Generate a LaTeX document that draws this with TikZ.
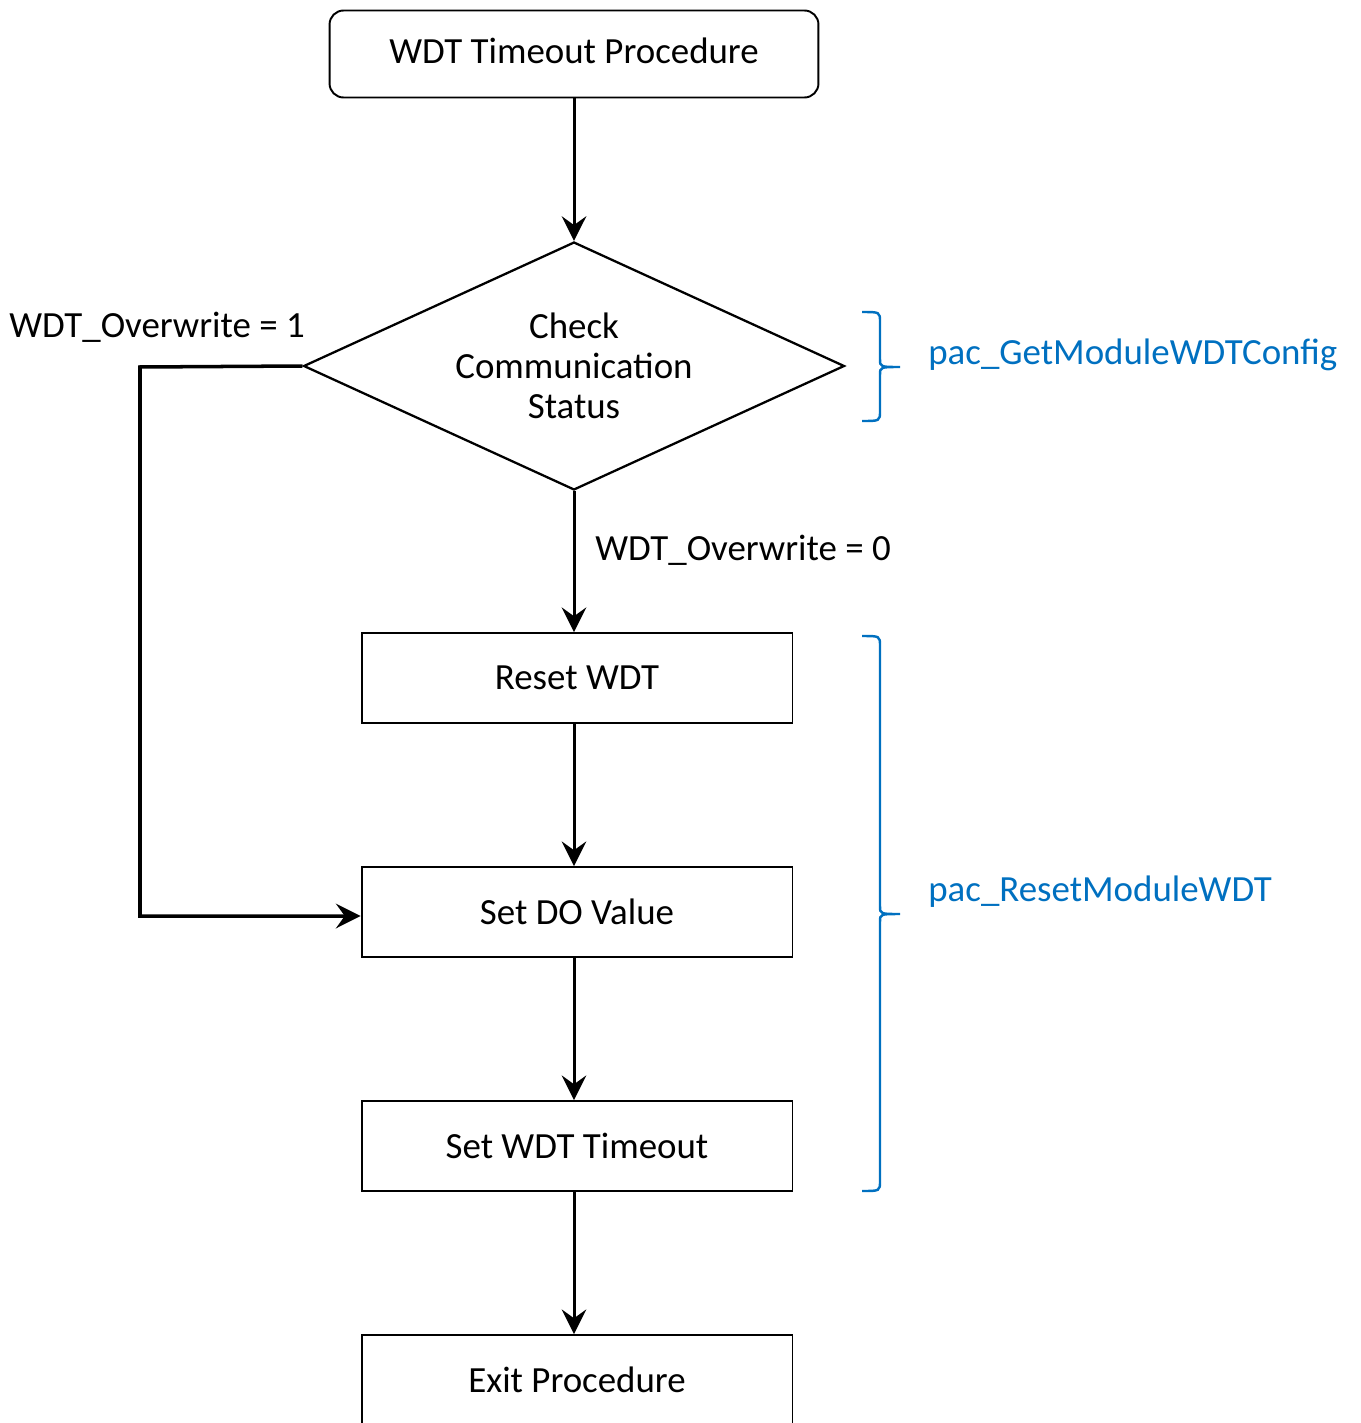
\documentclass[tikz,border=0pt]{standalone}
\usepackage{fontspec}
\setmainfont{Carlito}
\usetikzlibrary{arrows.meta,shapes.geometric}
\definecolor{apiblue}{RGB}{0,112,192}
\def\sidebrace(#1,#2,#3){\draw[bracepath] (862,#1) .. controls (880,#1) .. (880,#1+10) -- (880,#2-8) .. controls (880,#2) .. (900,#2) .. controls (880,#2) .. (880,#2+8) -- (880,#3-10) .. controls (880,#3) .. (862,#3);}
\tikzset{
  procbox/.style={draw, line width=1.1pt, minimum width=8.62cm, minimum height=1.8cm, inner sep=0pt},
  flowline/.style={line width=1.7pt, -{Stealth[length=14pt, width=14pt, inset=5pt]}},
  bracepath/.style={draw=apiblue, line width=1.4pt},
  apilabel/.style={text=apiblue, anchor=west, inner sep=0pt}
}

\begin{document}
\begin{tikzpicture}[x=0.02cm, y=-0.02cm, font=\fontsize{21}{22.7}\selectfont]
			%%%%% START %%%%%
			\useasboundingbox (0, 0) rectangle (1360, 1423);
			
			\node[draw, line width=1.1pt, rounded corners=0.28cm, minimum width=9.78cm, minimum height=1.74cm, inner sep=0pt] (start) at (574, 54) {\raisebox{0.12cm}{WDT Timeout Procedure}};
			
			\node[draw, line width=1.3pt, diamond, aspect=2.18, inner sep=0pt, minimum width=10.82cm, minimum height=4.96cm, align=center] (check) at (574, 366) {Check\\Communication\\Status};
			
			\node[procbox] (reset) at (577, 678) {Reset WDT};
			\node[procbox] (setdo) at (577, 912) {Set DO Value};
			\node[procbox] (settime) at (577, 1146) {Set WDT Timeout};
			\node[procbox] (exit) at (577, 1380) {Exit Procedure};
			
			\draw[flowline] (start.south) -- (check.north);
			\draw[flowline] (check.south) -- (reset.north -| check.south);
			\draw[flowline] (reset.south -| check.south) -- (setdo.north -| check.south);
			\draw[flowline] (setdo.south -| check.south) -- (settime.north -| check.south);
			\draw[flowline] (settime.south -| check.south) -- (exit.north -| check.south);
			
			\coordinate (bypass) at (140, 367);
			\draw[flowline, line width=2pt] (check.west) -- (bypass) |- ([yshift=-0.08cm]setdo.west);
			
			\node (yes) at (157, 327) {WDT\_Overwrite = 1};
			\node[anchor=west, inner sep=0pt] (no) at (595, 550) {WDT\_Overwrite = 0};
			
			\sidebrace(312,367,421)
			\sidebrace(636,914,1191)
			
			\node[apilabel] (getcfg) at (928, 355) {pac\_GetModuleWDTConfig};
			\node[apilabel] (resetwdt) at (928, 892) {pac\_ResetModuleWDT};
			
			%%%%% END %%%%%
		\end{tikzpicture}
\end{document}
